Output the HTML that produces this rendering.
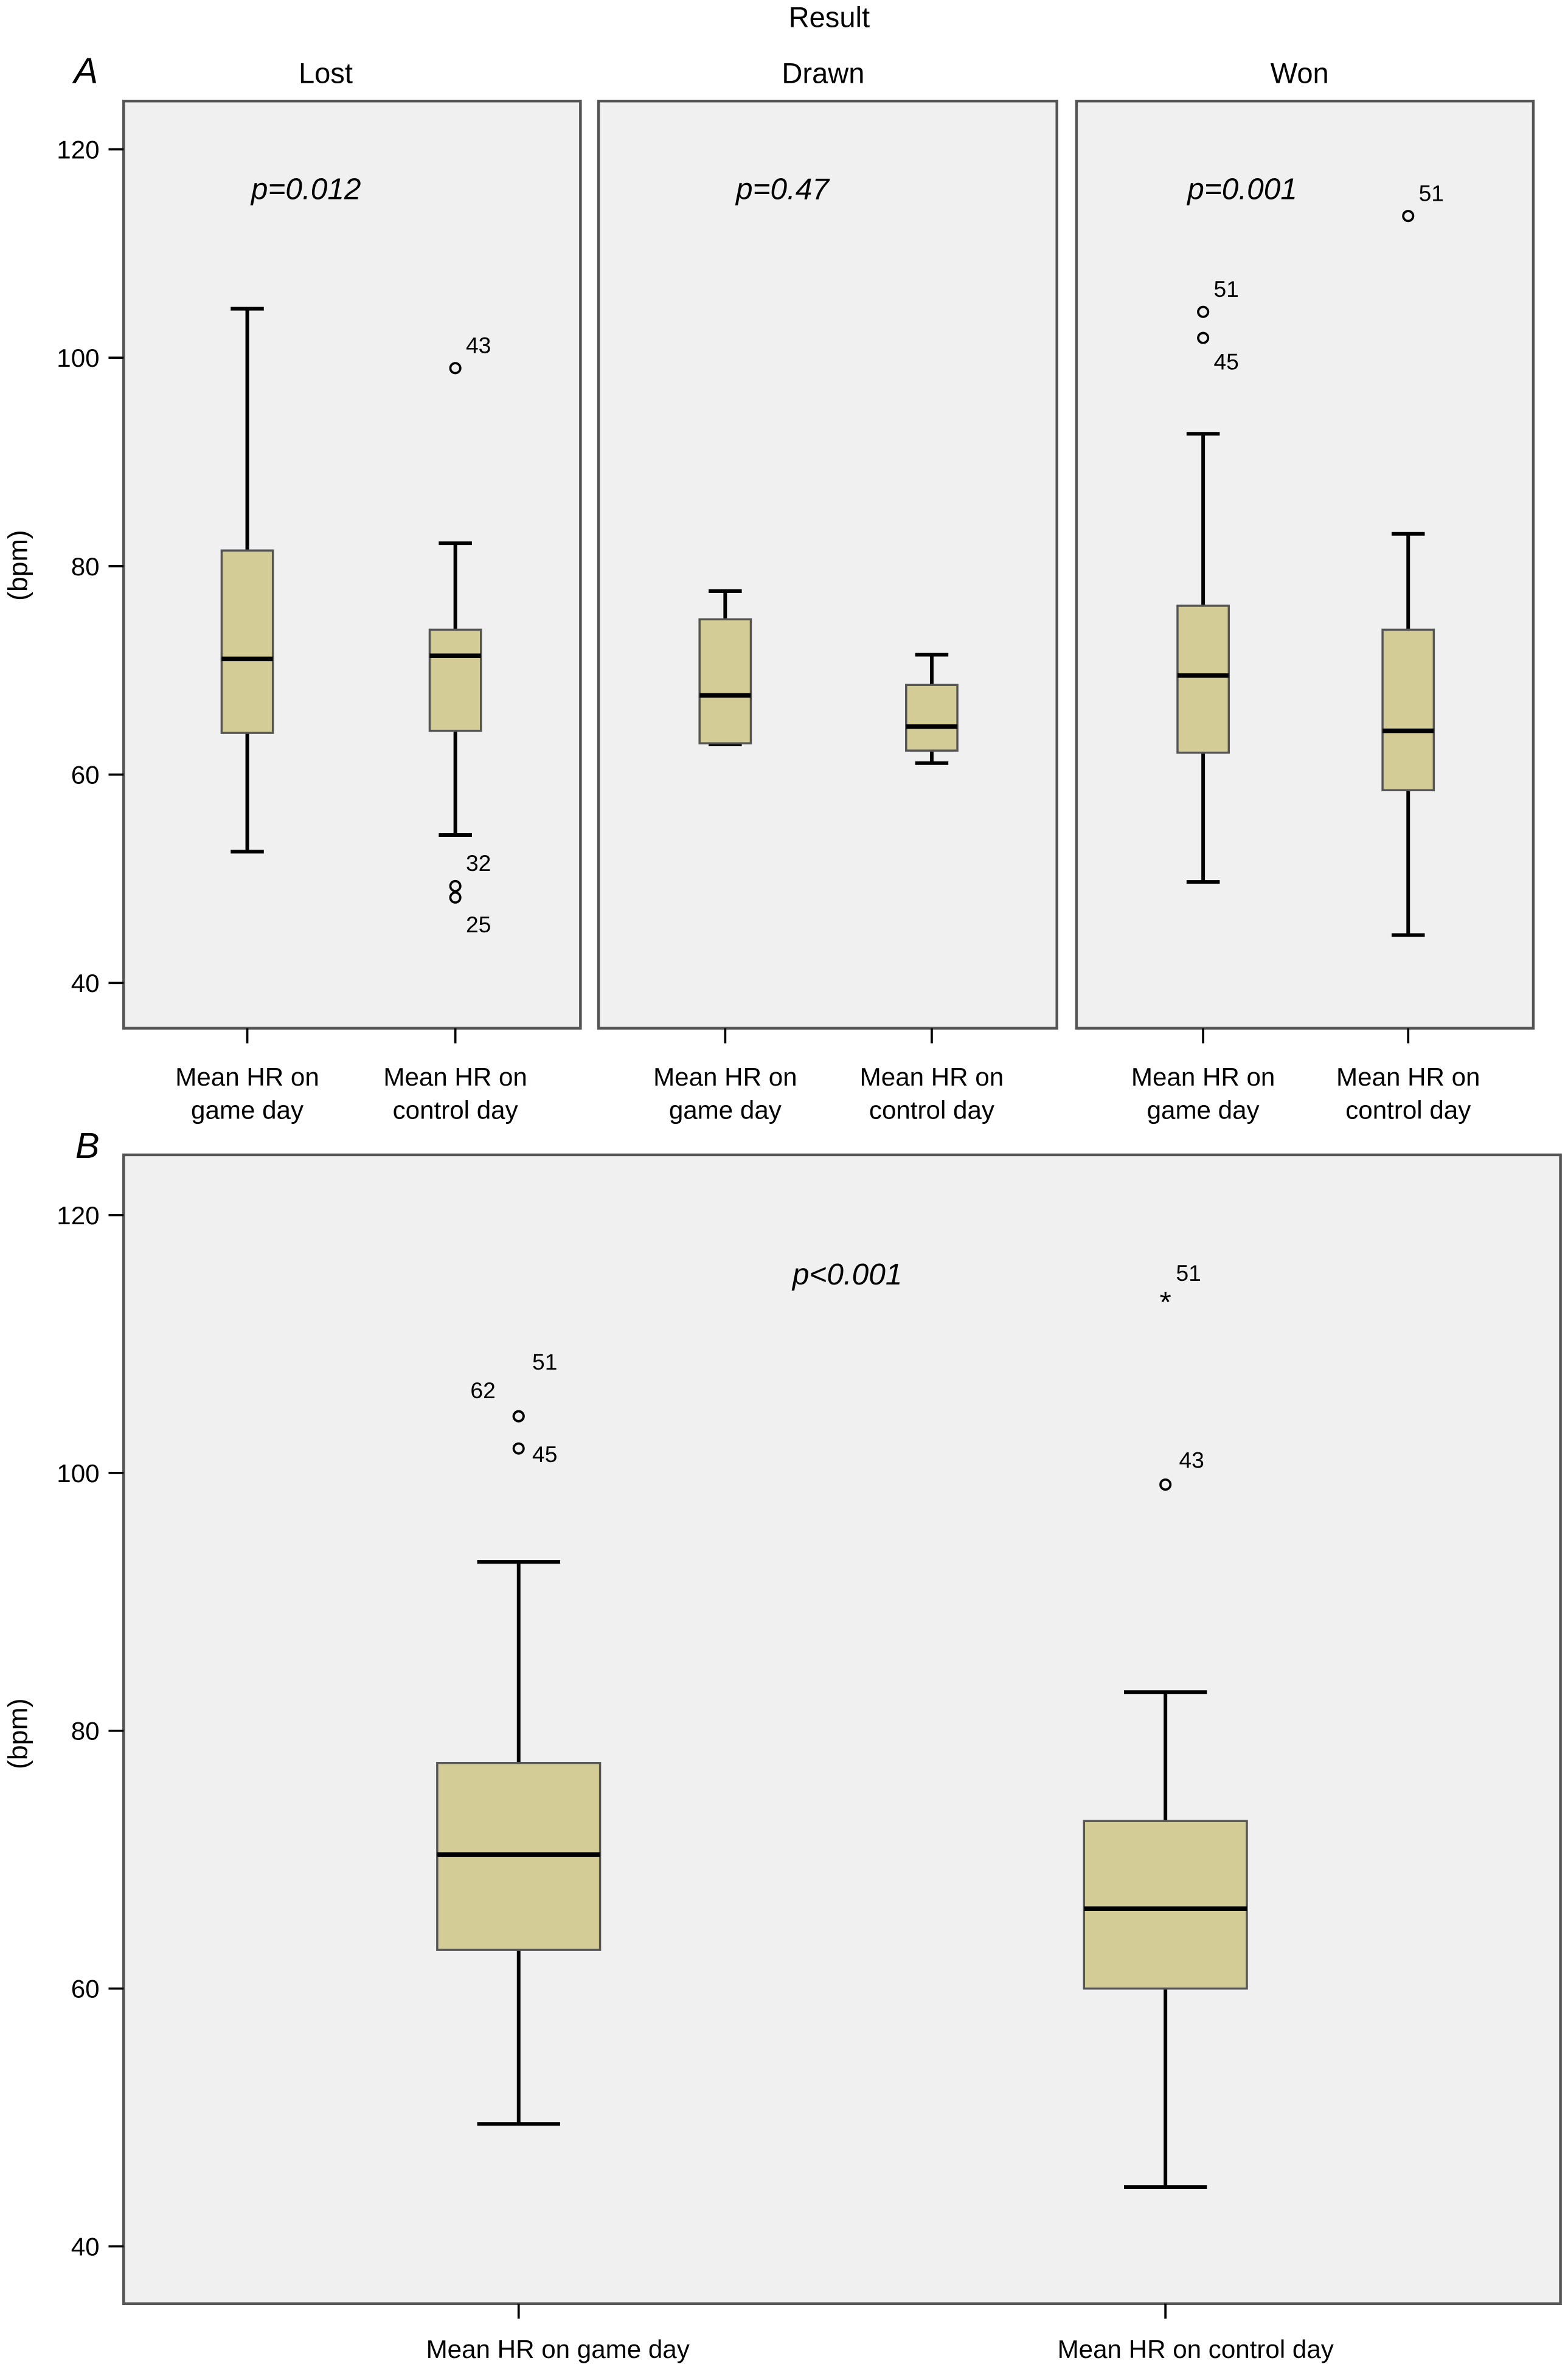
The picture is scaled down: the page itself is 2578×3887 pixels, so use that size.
<!DOCTYPE html>
<html><head><meta charset="utf-8"><style>
html,body{margin:0;padding:0;background:#fff;}
svg{display:block;font-family:"Liberation Sans",Arial,sans-serif;}
</style></head><body>
<svg id="chart" width="2578" height="3887" viewBox="0 0 1040 1568" xmlns="http://www.w3.org/2000/svg"></svg>
<script>
// ---- data ----
const resultGroups = ["Lost","Drawn","Won"];
const measureLabels = ["Mean HR on game day","Mean HR on control day"];
const pValuesA = ["p=0.012","p=0.47","p=0.001"];
const pValueB = "p<0.001";
const yTicks = [40,60,80,100,120];
// [low, q1, median, q3, high] for each group: game, control
const lostGame = [52.6,64.0,71.1,81.5,104.7];
const lostControl = [54.2,64.2,71.4,73.9,82.2];
const drawnGame = [62.9,63.0,67.6,74.9,77.6];
const drawnControl = [61.1,62.3,64.6,68.6,71.5];
const wonGame = [49.7,62.1,69.5,76.2,92.7];
const wonControl = [44.6,58.5,64.2,73.9,83.1];
const allGame = [49.5,63.0,70.4,77.5,93.1];
const allControl = [44.6,60.0,66.2,73.0,83.0];
// outliers: [value, label, marker]
const lostControlOutliers = [[99.0,"43","o"],[49.3,"32","o"],[48.2,"25","o"]];
const wonGameOutliers = [[104.4,"51","o"],[101.9,"45","o"]];
const wonControlOutliers = [[113.6,"51","o"]];
const allGameOutliers = [[104.4,"51","o"],[104.4,"62","o"],[101.9,"45","o"]];
const allControlOutliers = [[113.5,"51","*"],[99.1,"43","o"]];

const svg = document.getElementById('chart');
const NS = "http://www.w3.org/2000/svg";
function mk(tag, attrs, parent){const e=document.createElementNS(NS,tag);for(const k in attrs)e.setAttribute(k,attrs[k]);(parent||svg).appendChild(e);return e;}
function txt(s,attrs,parent){const e=mk('text',attrs,parent);e.textContent=s;return e;}

function yA(v){return 99 + (120-v)*(652-99)/80;}
function yB(v){return 806 + (120-v)*(1490-806)/80;}

function drawBox(d, cx, w, cap, yf, name){
  const g = mk('g',{});
  
  
  const sw = 2.4;
  mk('line',{x1:cx,x2:cx,y1:yf(d[4]),y2:yf(d[3]),stroke:'#000','stroke-width':sw},g);
  mk('line',{x1:cx,x2:cx,y1:yf(d[1]),y2:yf(d[0]),stroke:'#000','stroke-width':sw},g);
  mk('line',{x1:cx-cap/2,x2:cx+cap/2,y1:yf(d[4]),y2:yf(d[4]),stroke:'#000','stroke-width':sw},g);
  mk('line',{x1:cx-cap/2,x2:cx+cap/2,y1:yf(d[0]),y2:yf(d[0]),stroke:'#000','stroke-width':sw},g);
  mk('rect',{x:cx-w/2,y:yf(d[3]),width:w,height:yf(d[1])-yf(d[3]),fill:'#d4cc97',stroke:'#555','stroke-width':1.4},g);
  mk('line',{x1:cx-w/2,x2:cx+w/2,y1:yf(d[2]),y2:yf(d[2]),stroke:'#000','stroke-width':3},g);
  return g;
}
function drawOutliers(list, cx, yf, name, labelPos){
  list.forEach((o,i)=>{
    const y=yf(o[0]);
    if(o[2]==='*'){
      const t=txt('*',{x:cx,y:y+9,'font-size':20,'text-anchor':'middle',fill:'#000'});
      
      
    } else {
      const c=mk('circle',{cx:cx,cy:y,r:3.3,fill:'none',stroke:'#000','stroke-width':1.5});
      
      
    }
    const lp = labelPos[i];
    const l=txt(o[1],{x:cx+lp[0],y:y+lp[1],'font-size':15,fill:'#000'});
    
    
  });
}

let t=txt('Result',{x:550,y:18,'font-size':19,'text-anchor':'middle'});

t=txt('A',{x:57,y:55,'font-size':24,'font-style':'italic','text-anchor':'middle'});

t=txt('B',{x:58,y:768,'font-size':24,'font-style':'italic','text-anchor':'middle'});


const panelsA = [[82,385],[397,701],[714,1017]];
const titleX = [216,546,862];
const centersA = [[164,302],[481,618],[798,934]];
const dataA = [[lostGame,lostControl],[drawnGame,drawnControl],[wonGame,wonControl]];
panelsA.forEach((p,i)=>{
  const r=mk('rect',{x:p[0],y:67,width:p[1]-p[0],height:682-67,fill:'#f0f0f0',stroke:'#555','stroke-width':1.8});
  
  let tt=txt(resultGroups[i],{x:titleX[i],y:55,'font-size':19,'text-anchor':'middle'});
  
  tt=txt(pValuesA[i],{x:[203,519,824][i],y:132,'font-size':20,'font-style':'italic','text-anchor':'middle'});
  
  [0,1].forEach(j=>{
    const cx=centersA[i][j];
    mk('line',{x1:cx,x2:cx,y1:682,y2:692,stroke:'#000','stroke-width':1.5});
    drawBox(dataA[i][j],cx,34,22,yA,'box-'+resultGroups[i].toLowerCase()+'-'+(j?'control':'game'));
    const l1=txt('Mean HR on',{x:cx,y:720,'font-size':17,'text-anchor':'middle'});
    
    const l2=txt(j?'control day':'game day',{x:cx,y:742,'font-size':17,'text-anchor':'middle'});
    
  });
});
drawOutliers(lostControlOutliers,302,yA,'lost-control',[[7,-10],[7,-10],[7,23]]);
drawOutliers(wonGameOutliers,798,yA,'won-game',[[7,-10],[7,21]]);
drawOutliers(wonControlOutliers,934,yA,'won-control',[[7,-10]]);
yTicks.forEach(v=>{
  mk('line',{x1:72,x2:82,y1:yA(v),y2:yA(v),stroke:'#000','stroke-width':1.5});
  const l=txt(v,{x:66,y:yA(v)+6,'font-size':17,'text-anchor':'end'});
  
});
t=txt('(bpm)',{x:0,y:0,'font-size':18,'text-anchor':'middle',transform:'translate(18,375) rotate(-90)'});


let rb=mk('rect',{x:82,y:766,width:1035-82,height:1528-766,fill:'#f0f0f0',stroke:'#555','stroke-width':1.8});

t=txt(pValueB,{x:562,y:852,'font-size':20,'font-style':'italic','text-anchor':'middle'});

const centersB=[344,773];
[allGame,allControl].forEach((d,j)=>{
  const cx=centersB[j];
  mk('line',{x1:cx,x2:cx,y1:1528,y2:1538,stroke:'#000','stroke-width':1.5});
  drawBox(d,cx,108,55,yB,'box-overall-'+(j?'control':'game'));
  const l=txt(measureLabels[j],{x:cx+(j?20:26),y:1564,'font-size':17,'text-anchor':'middle'});
  
});
drawOutliers(allGameOutliers,344,yB,'overall-game',[[9,-31],[-32,-12],[9,9]]);
drawOutliers(allControlOutliers,773,yB,'overall-control',[[7,-12],[9,-11]]);
yTicks.forEach(v=>{
  mk('line',{x1:72,x2:82,y1:yB(v),y2:yB(v),stroke:'#000','stroke-width':1.5});
  const l=txt(v,{x:66,y:yB(v)+6,'font-size':17,'text-anchor':'end'});
  
});
t=txt('(bpm)',{x:0,y:0,'font-size':18,'text-anchor':'middle',transform:'translate(18,1150) rotate(-90)'});

</script>
</body></html>
